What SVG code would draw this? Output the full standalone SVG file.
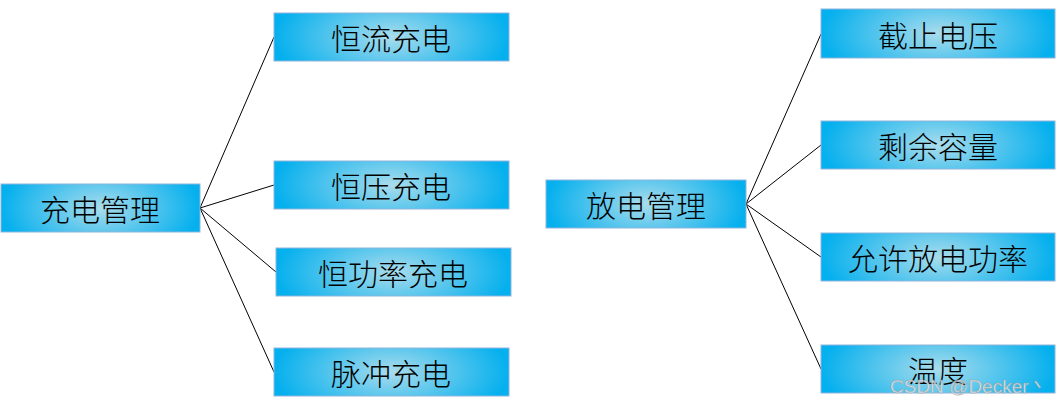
<svg xmlns="http://www.w3.org/2000/svg" width="1057" height="404" viewBox="0 0 1057 404">
<style>
.box{fill:url(#g);stroke:#8fb4dc;stroke-width:1}
.t{font-family:"Noto Sans CJK SC","Noto Sans CJK JP",sans-serif;font-size:30px;font-weight:300;fill:#000;text-anchor:middle;dominant-baseline:central}
.c line{stroke:#000;stroke-width:1}
.wm{font-family:"Liberation Sans",Arial,sans-serif;font-size:19px;fill:#e8e8e8;stroke:#9a9a9a;stroke-width:0.4;fill-opacity:0.85}
</style>
<defs>
<radialGradient id="g" cx="0.5" cy="0.5" r="0.5" gradientTransform="translate(0.5 0.5) scale(1 2.2) translate(-0.5 -0.5)">
<stop offset="0" stop-color="#a9dcec"/>
<stop offset="1" stop-color="#05b0ee"/>
</radialGradient>
</defs>
<rect width="1057" height="404" fill="#fff"/>
<g class="c" id="connectors">
<line x1="200" y1="208" x2="274" y2="37"/>
<line x1="200" y1="208" x2="274" y2="185"/>
<line x1="200" y1="208" x2="276" y2="272"/>
<line x1="200" y1="208" x2="274" y2="372"/>
<line x1="746" y1="204" x2="821" y2="34"/>
<line x1="746" y1="204" x2="821" y2="145"/>
<line x1="746" y1="204" x2="821" y2="257"/>
<line x1="746" y1="204" x2="821" y2="369"/>
</g>
<g id="n1"><rect class="box" x="1" y="184" width="199" height="48"/><text class="t" x="100" y="208">充电管理</text></g>
<g id="n2"><rect class="box" x="274" y="13" width="235" height="48"/><text class="t" x="391" y="37">恒流充电</text></g>
<g id="n3"><rect class="box" x="274" y="161" width="235" height="48"/><text class="t" x="391" y="185">恒压充电</text></g>
<g id="n4"><rect class="box" x="276" y="248" width="235" height="48"/><text class="t" x="393" y="272">恒功率充电</text></g>
<g id="n5"><rect class="box" x="274" y="348" width="235" height="48"/><text class="t" x="391" y="372">脉冲充电</text></g>
<g id="n6"><rect class="box" x="546" y="180" width="200" height="48"/><text class="t" x="646" y="204">放电管理</text></g>
<g id="n7"><rect class="box" x="821" y="9" width="234" height="49"/><text class="t" x="938" y="34">截止电压</text></g>
<g id="n8"><rect class="box" x="821" y="121" width="234" height="48"/><text class="t" x="938" y="145">剩余容量</text></g>
<g id="n9"><rect class="box" x="821" y="233" width="234" height="48"/><text class="t" x="938" y="257">允许放电功率</text></g>
<g id="n10"><rect class="box" x="821" y="345" width="234" height="48"/><text class="t" x="938" y="369">温度</text></g>
<text class="wm" x="890" y="393">CSDN @Decker丶</text>
</svg>
